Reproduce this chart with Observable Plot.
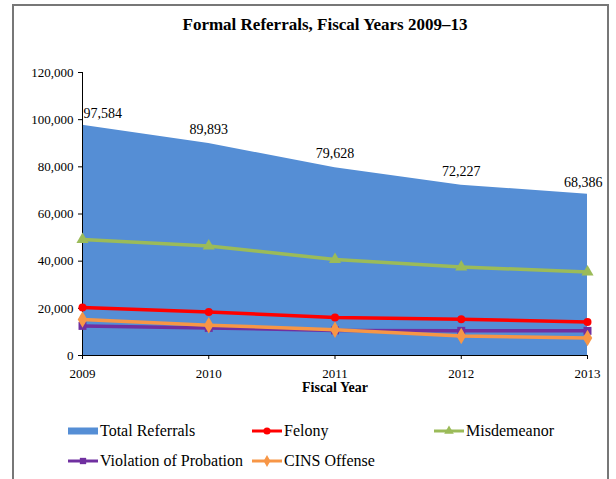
<!DOCTYPE html>
<html>
<head>
<meta charset="utf-8">
<script src="https://cdn.jsdelivr.net/npm/d3@7"></script>
<script src="https://cdn.jsdelivr.net/npm/@observablehq/plot@0.6"></script>
<style>
  html, body { margin: 0; padding: 0; background: #fff; }
  body { width: 616px; height: 479px; position: relative; overflow: hidden; font-family: 'Liberation Serif', 'Times New Roman', serif; color: #000; }
  #frame { position: absolute; left: 12px; top: 4px; width: 597px; height: 520px; border: 2px solid #777; box-sizing: border-box; }
  #title { position: absolute; left: 17px; top: 16px; width: 616px; text-align: center; font-weight: bold; font-size: 17px; line-height: 17px; font-family: 'Liberation Serif', serif; }
  #chart { position: absolute; left: 0; top: 44px; }
  #chart svg text { font-family: 'Liberation Serif', 'Times New Roman', serif !important; }
  #legend { position: absolute; left: 0; top: 418px; width: 616px; height: 60px; font-size: 16px; font-family: 'Liberation Serif', serif; }
  .item { position: absolute; display: flex; align-items: center; height: 26px; white-space: nowrap; }
  .item svg { display: block; margin-right: 2px; }
</style>
</head>
<body>
<div id="frame"></div>
<div id="title">Formal Referrals, Fiscal Years 2009–13</div>
<div id="chart"></div>
<div id="legend"></div>
<script>
const years = [2009, 2010, 2011, 2012, 2013];
const totalReferrals = [97584, 89893, 79628, 72227, 68386];
const felony = [20330, 18470, 16100, 15370, 14230];
const misdemeanor = [49150, 46450, 40700, 37500, 35450];
const violationOfProbation = [12550, 11700, 10650, 10450, 10450];
const cinsOffense = [15250, 12850, 10950, 8300, 7450];
const yTicks = [0, 20000, 40000, 60000, 80000, 100000, 120000];
const xLabel = "Fiscal Year";
const seriesNames = ["Total Referrals", "Felony", "Misdemeanor", "Violation of Probation", "CINS Offense"];
const seriesColors = ["#558ED5", "#FF0000", "#9BBB59", "#7030A0", "#F79646"];
const seriesSymbols = [null, "circle", "triangle", "square", "diamond"];

const FONT = "'Liberation Serif', 'Times New Roman', serif";
const rows = years.map((year, i) => ({
  year,
  total: totalReferrals[i],
  felony: felony[i],
  misdemeanor: misdemeanor[i],
  vop: violationOfProbation[i],
  cins: cinsOffense[i]
}));
const lineSeries = [
  {key: "felony", idx: 1, r: 4},
  {key: "misdemeanor", idx: 2, r: 4.5},
  {key: "vop", idx: 3, r: 4.5},
  {key: "cins", idx: 4, r: 5}
];
const fmt = d3.format(",");

const marks = [
  Plot.areaY(rows, {x: "year", y: "total", fill: seriesColors[0]}),
  Plot.axisY({ticks: yTicks, tickFormat: fmt, tickSize: 4, tickPadding: 5, label: null, fontSize: 13, fontFamily: FONT, fill: "#000"}),
  Plot.axisX({ticks: years, tickFormat: d => String(d), tickSize: 4, tickPadding: 9, label: null, fontSize: 13, fontFamily: FONT, fill: "#000"}),
  Plot.ruleY([0], {stroke: "#000", strokeWidth: 1}),
  Plot.ruleX([years[0]], {y1: yTicks[0], y2: yTicks[yTicks.length - 1], stroke: "#000", strokeWidth: 1})
];
for (const s of lineSeries) {
  marks.push(Plot.line(rows, {x: "year", y: s.key, stroke: seriesColors[s.idx], strokeWidth: 3.5}));
  marks.push(Plot.dot(rows, {x: "year", y: s.key, symbol: () => seriesSymbols[s.idx], fill: seriesColors[s.idx], stroke: "none", r: s.r}));
}
const last = rows.length - 1;
marks.push(
  Plot.text(rows.slice(0, 1), {x: "year", y: "total", text: d => fmt(d.total), dy: -12, dx: 1, textAnchor: "start", fontSize: 14, fontFamily: FONT, fill: "#000"}),
  Plot.text(rows.slice(1, last), {x: "year", y: "total", text: d => fmt(d.total), dy: -14, textAnchor: "middle", fontSize: 14, fontFamily: FONT, fill: "#000"}),
  Plot.text(rows.slice(last), {x: "year", y: "total", text: d => fmt(d.total), dy: -12, dx: 15, textAnchor: "end", fontSize: 14, fontFamily: FONT, fill: "#000"}),
  Plot.text([xLabel], {frameAnchor: "bottom", text: d => d, dy: 36, fontWeight: "bold", fontSize: 14, fontFamily: FONT, fill: "#000"})
);

const chart = Plot.plot({
  width: 616,
  height: 360,
  marginLeft: 82,
  marginRight: 29,
  marginTop: 28,
  marginBottom: 49,
  style: {fontFamily: FONT, fontSize: "13px", color: "#000", background: "transparent"},
  x: {domain: [years[0], years[years.length - 1]]},
  y: {domain: [yTicks[0], yTicks[yTicks.length - 1]]},
  marks
});
document.getElementById("chart").appendChild(chart);

// Legend
const symbolTypes = {circle: d3.symbolCircle, triangle: d3.symbolTriangle, square: d3.symbolSquare, diamond: d3.symbolDiamond};
const legendPos = [
  {left: 68, top: 0}, {left: 252, top: 0}, {left: 434, top: 0},
  {left: 68, top: 30}, {left: 252, top: 30}
];
const legend = document.getElementById("legend");
const ns = "http://www.w3.org/2000/svg";
seriesNames.forEach((name, i) => {
  const div = document.createElement("div");
  div.className = "item";
  div.style.left = legendPos[i].left + "px";
  div.style.top = legendPos[i].top + "px";
  const svg = document.createElementNS(ns, "svg");
  svg.setAttribute("width", 30);
  svg.setAttribute("height", 12);
  if (i === 0) {
    const r = document.createElementNS(ns, "rect");
    r.setAttribute("x", 0); r.setAttribute("y", 2.5); r.setAttribute("width", 30); r.setAttribute("height", 7);
    r.setAttribute("fill", seriesColors[i]);
    svg.appendChild(r);
  } else {
    const l = document.createElementNS(ns, "line");
    l.setAttribute("x1", 0); l.setAttribute("x2", 30); l.setAttribute("y1", 6); l.setAttribute("y2", 6);
    l.setAttribute("stroke", seriesColors[i]); l.setAttribute("stroke-width", 3);
    svg.appendChild(l);
    const p = document.createElementNS(ns, "path");
    p.setAttribute("d", d3.symbol(symbolTypes[seriesSymbols[i]], 40)());
    p.setAttribute("transform", "translate(15,6)");
    p.setAttribute("fill", seriesColors[i]);
    svg.appendChild(p);
  }
  div.appendChild(svg);
  const span = document.createElement("span");
  span.textContent = name;
  div.appendChild(span);
  legend.appendChild(div);
});
</script>
</body>
</html>
